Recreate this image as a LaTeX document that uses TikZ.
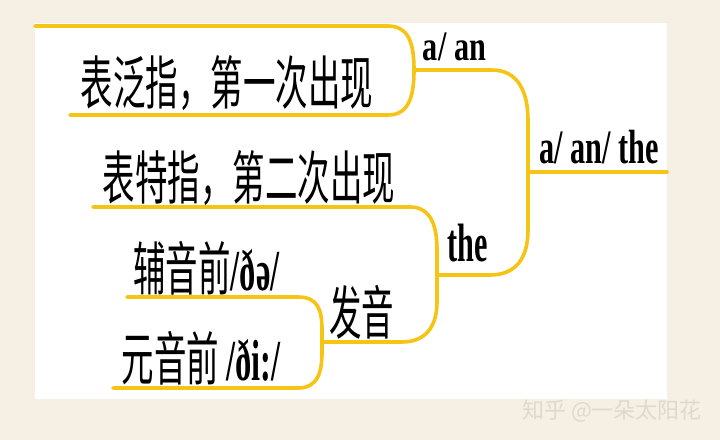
\documentclass[tikz,border=0pt]{standalone}
\usepackage{fontspec}
\usepackage{graphicx}
\setmainfont{Liberation Serif}
\newfontfamily\cjk{Noto Sans CJK SC}
\definecolor{bg}{RGB}{246,240,228}
\definecolor{gold}{RGB}{245,196,20}
\definecolor{mark}{RGB}{222,216,206}
\newcommand{\narrow}[2][0.56]{\scalebox{#1}[1]{#2}}
\begin{document}
\begin{tikzpicture}[line join=round, line cap=round, x=0.5pt, y=-0.5pt]
    \tikzset{every node/.style={inner sep=0pt},
        branch/.style={gold, line width=1.8pt},
        zh/.style={font=\cjk\fontsize{29}{32}\selectfont},
        en/.style={font=\bfseries\fontsize{#1}{#1}\selectfont}}
    \fill[bg] (0,0) rectangle (720,440);
    \fill[white] (35,23) rectangle (667,399);
    \coordinate (j0) at (528,172);
    \coordinate (j1) at (414,70);
    \coordinate (j2) at (437,275);
    \coordinate (j3) at (322,342);
    \coordinate (tip) at (667,172);
    \coordinate (fanL) at (35,26);
    \coordinate (fanB) at (70,115);
    \coordinate (teL) at (93,207);
    \coordinate (fuL) at (127,297);
    \coordinate (yuL) at (113,388);
    \draw[branch] (j0) -- (tip);
    \draw[branch] (fanL) -- ++(353,0) .. controls +(22,0) and +(0,-24) .. (j1);
    \draw[branch] (fanB) -- ++(318,0) .. controls +(22,0) and +(0,24) .. (j1);
    \draw[branch] (j1) -- ++(78,0) .. controls +(26,0) and +(0,-28) .. ++(36,50) -- (j0);
    \draw[branch] (j2) -- ++(53,0) .. controls +(26,0) and +(0,28) .. ++(38,-45) -- (j0);
    \draw[branch] (teL) -- ++(317,0) .. controls +(22,0) and +(0,-22) .. ++(27,43) -- (j2);
    \draw[branch] (j3) -- ++(80,0) .. controls +(24,0) and +(0,24) .. ++(35,-40) -- (j2);
    \draw[branch] (fuL) -- ++(171,0) .. controls +(20,0) and +(0,-20) .. ++(24,33) -- (j3);
    \draw[branch] (yuL) -- ++(185,0) .. controls +(20,0) and +(0,20) .. ++(24,-36) -- (j3);
    \node[en=24] (root) at (599,147) {\narrow[0.63]{a/ an/ the}};
    \node[en=21] (aan) at (454.5,47) {\narrow[0.72]{a/ an}};
    \node[en=27] (the) at (467.5,243) {\narrow[0.56]{the}};
    \node[zh] (fan) at (227,83.5) {\narrow{表泛指，第一次出现}};
    \node[zh] (te) at (249,178.5) {\narrow{表特指，第二次出现}};
    \node[zh] (fayin) at (361.5,312.5) {\narrow{发音}};
    \node[zh] (fu) at (206.5,268.5) {\narrow{辅音前{\rmfamily\bfseries/ðə/}}};
    \node[zh] (yuan) at (201,358) {\narrow{元音前 {\rmfamily\bfseries/ði:/}}};
    \node[font=\cjk\fontsize{11}{12}\selectfont, text=mark] (zhihu) at (612,411) {知乎 @一朵太阳花};
\end{tikzpicture}
\end{document}
